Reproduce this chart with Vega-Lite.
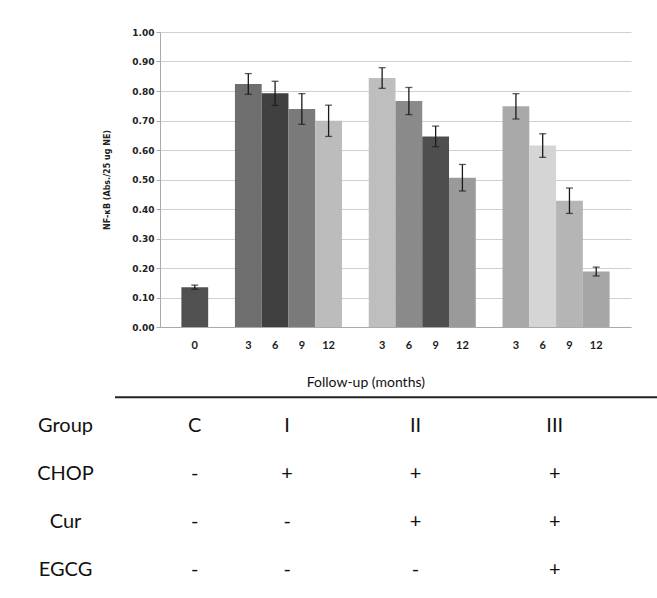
{
  "$schema": "https://vega.github.io/schema/vega-lite/v6.json",
  "padding": {"left": 36, "top": -12, "right": 0, "bottom": 0},
  "background": "white",
  "config": {"view": {"stroke": null}, "font": "Lato"},
  "spacing": 4,
  "datasets": {
    "bars": [
      {"key": "C-0", "value": 0.135, "err": 0.007},
      {"key": "I-3", "value": 0.824, "err": 0.035},
      {"key": "I-6", "value": 0.792, "err": 0.041},
      {"key": "I-9", "value": 0.739, "err": 0.052},
      {"key": "I-12", "value": 0.699, "err": 0.053},
      {"key": "II-3", "value": 0.844, "err": 0.035},
      {"key": "II-6", "value": 0.766, "err": 0.046},
      {"key": "II-9", "value": 0.646, "err": 0.035},
      {"key": "II-12", "value": 0.506, "err": 0.045},
      {"key": "III-3", "value": 0.748, "err": 0.043},
      {"key": "III-6", "value": 0.615, "err": 0.040},
      {"key": "III-9", "value": 0.428, "err": 0.043},
      {"key": "III-12", "value": 0.188, "err": 0.015}
    ],
    "table": [
      {"row": "Group", "col": "C", "txt": "C"},
      {"row": "Group", "col": "I", "txt": "I"},
      {"row": "Group", "col": "II", "txt": "II"},
      {"row": "Group", "col": "III", "txt": "III"},
      {"row": "CHOP", "col": "C", "txt": "-"},
      {"row": "CHOP", "col": "I", "txt": "+"},
      {"row": "CHOP", "col": "II", "txt": "+"},
      {"row": "CHOP", "col": "III", "txt": "+"},
      {"row": "Cur", "col": "C", "txt": "-"},
      {"row": "Cur", "col": "I", "txt": "-"},
      {"row": "Cur", "col": "II", "txt": "+"},
      {"row": "Cur", "col": "III", "txt": "+"},
      {"row": "EGCG", "col": "C", "txt": "-"},
      {"row": "EGCG", "col": "I", "txt": "-"},
      {"row": "EGCG", "col": "II", "txt": "-"},
      {"row": "EGCG", "col": "III", "txt": "+"}
    ]
  },
  "vconcat": [
    {
      "title": {"text": "NF-κB", "font": "Lato", "fontSize": 13, "fontWeight": "bold", "color": "#111", "offset": 27, "dx": -35, "anchor": "middle"},
      "width": 471,
      "height": 295,
      "data": {"name": "bars"},
      "encoding": {
        "x": {
          "field": "key", "type": "nominal", "sort": null,
          "scale": {"type": "band", "domain": ["C-0","gap1","I-3","I-6","I-9","I-12","gap2","II-3","II-6","II-9","II-12","gap3","III-3","III-6","III-9","III-12"], "paddingInner": 0, "paddingOuter": 0.8},
          "axis": {"title": null, "ticks": false, "labelAngle": 0, "labelFont": "Lato", "labelFontSize": 11, "labelFontWeight": "bold", "labelColor": "#1a1a1a", "labelPadding": 12, "domainColor": "#aaa", "grid": false,
                   "labelExpr": "indexof(datum.value, '-') < 0 ? '' : split(datum.value, '-')[1]"}
        },
        "y": {"field": "value", "type": "quantitative", "title": "NF-κB (Abs./25 ug NE)",
              "scale": {"domain": [0, 1]},
              "axis": {"values": [0,0.1,0.2,0.3,0.4,0.5,0.6,0.7,0.8,0.9,1.0], "format": ".2f",
                       "titleFont": "DejaVu Sans", "titleFontSize": 8, "titleFontWeight": "bold", "titleColor": "#222", "titlePadding": 20,
                       "labelFont": "DejaVu Sans", "labelFontSize": 9, "labelFontWeight": "bold", "labelColor": "#222", "labelPadding": 2,
                       "tickSize": 4, "tickColor": "#aaa", "domainColor": "#aaa", "gridColor": "#d0d0d0"}}
      },
      "layer": [
        {
          "mark": {"type": "bar"},
          "encoding": {
            "color": {"field": "key", "type": "nominal", "legend": null,
                      "scale": {"domain": ["C-0","I-3","I-6","I-9","I-12","II-3","II-6","II-9","II-12","III-3","III-6","III-9","III-12"],
                                "range": ["#505050","#6e6e6e","#404040","#7a7a7a","#bcbcbc","#bebebe","#8a8a8a","#4e4e4e","#9a9a9a","#a9a9a9","#d5d5d5","#b5b5b5","#a6a6a6"]}}
          }
        },
        {
          "mark": {"type": "errorbar", "ticks": true, "size": 7, "thickness": 1.3, "color": "#1a1a1a"},
          "encoding": {
            "yError": {"field": "err"}
          }
        }
      ]
    },
    {
      "width": 471,
      "height": 240,
      "data": {"name": "table"},
      "encoding": {
        "y": {"field": "row", "type": "nominal",
              "scale": {"type": "band", "domain": ["Follow","Group","CHOP","Cur","EGCG"], "paddingInner": 0, "paddingOuter": 0},
              "axis": {"title": null, "domain": false, "ticks": false, "labelFont": "Lato", "labelFontSize": 20, "labelColor": "#111", "labelAlign": "center", "labelPadding": 95,
                       "labelExpr": "datum.value == 'Follow' ? '' : datum.value"}}
      },
      "layer": [
        {
          "data": {"values": [{"sep": "line"}]},
          "mark": {"type": "rule", "clip": false, "color": "#222", "strokeWidth": 2},
          "encoding": {
            "x": {"datum": -0.0955, "type": "quantitative", "scale": {"domain": [0, 1]}, "axis": null},
            "x2": {"datum": 1.06},
            "y": {"datum": "Follow", "type": "nominal", "bandPosition": 0.9}
          }
        },
        {
          "data": {"values": [{"label": "Follow-up (months)"}]},
          "mark": {"type": "text", "font": "Lato", "fontSize": 14, "color": "#111", "clip": false},
          "encoding": {
            "x": {"datum": 0.437, "type": "quantitative", "scale": {"domain": [0, 1]}, "axis": null},
            "y": {"datum": "Follow", "type": "nominal", "bandPosition": 0.6},
            "text": {"field": "label"}
          }
        },
        {
          "transform": [{"filter": "datum.col == 'C'"}],
          "mark": {"type": "text", "font": "Lato", "fontSize": 20, "color": "#111"},
          "encoding": {
            "x": {"field": "col", "type": "nominal", "bandPosition": 0.5,
                  "scale": {"type": "band", "domain": ["C","gap1","I-3","I","I-9","I-12","gap2","II-3","II","II-9","II-12","gap3","III-3","III","III-9","III-12"], "paddingInner": 0, "paddingOuter": 0.8}, "axis": null},
            "text": {"field": "txt"}
          }
        },
        {
          "transform": [{"filter": "datum.col == 'I' || datum.col == 'III'"}],
          "mark": {"type": "text", "font": "Lato", "fontSize": 20, "color": "#111"},
          "encoding": {
            "x": {"field": "col", "type": "nominal", "bandPosition": 0.95,
                  "scale": {"type": "band", "domain": ["C","gap1","I-3","I","I-9","I-12","gap2","II-3","II","II-9","II-12","gap3","III-3","III","III-9","III-12"], "paddingInner": 0, "paddingOuter": 0.8}, "axis": null},
            "text": {"field": "txt"}
          }
        },
        {
          "transform": [{"filter": "datum.col == 'II'"}],
          "mark": {"type": "text", "font": "Lato", "fontSize": 20, "color": "#111"},
          "encoding": {
            "x": {"field": "col", "type": "nominal", "bandPosition": 0.75,
                  "scale": {"type": "band", "domain": ["C","gap1","I-3","I","I-9","I-12","gap2","II-3","II","II-9","II-12","gap3","III-3","III","III-9","III-12"], "paddingInner": 0, "paddingOuter": 0.8}, "axis": null},
            "text": {"field": "txt"}
          }
        }
      ],
      "resolve": {"scale": {"x": "independent"}}
    }
  ]
}
